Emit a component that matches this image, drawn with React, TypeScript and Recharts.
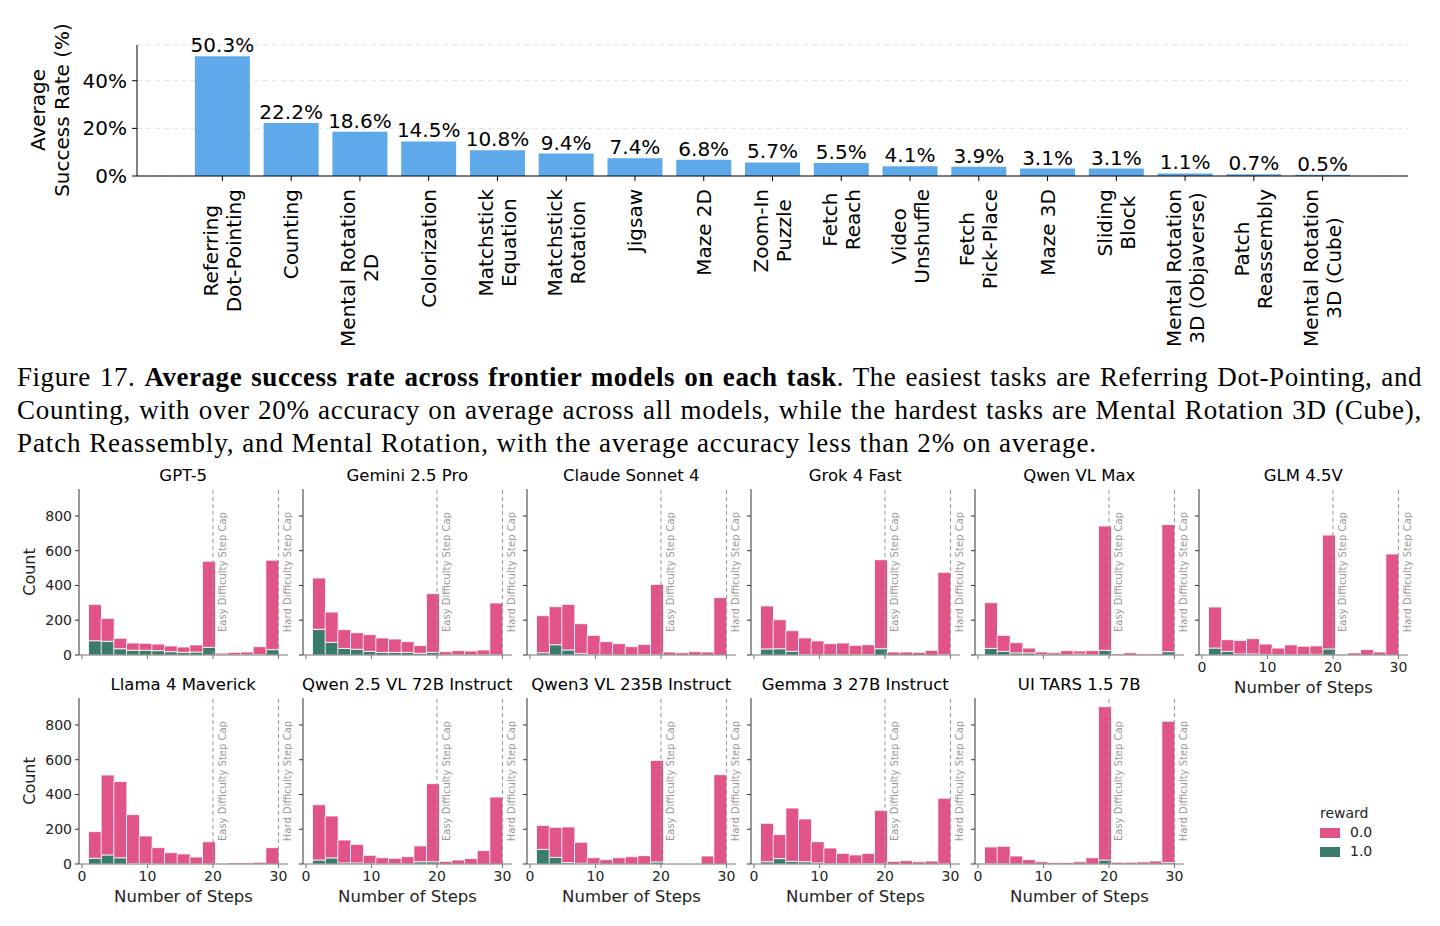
import React from "react"
import { BarChart, Bar, XAxis, YAxis, CartesianGrid, LabelList, ReferenceLine } from "recharts"

// ---- top chart: average success rate per task ----
const tasks = [
  "Referring\nDot-Pointing",
  "Counting",
  "Mental Rotation\n2D",
  "Colorization",
  "Matchstick\nEquation",
  "Matchstick\nRotation",
  "Jigsaw",
  "Maze 2D",
  "Zoom-In\nPuzzle",
  "Fetch\nReach",
  "Video\nUnshuffle",
  "Fetch\nPick-Place",
  "Maze 3D",
  "Sliding\nBlock",
  "Mental Rotation\n3D (Objaverse)",
  "Patch\nReassembly",
  "Mental Rotation\n3D (Cube)",
]
const successRates = [50.3, 22.2, 18.6, 14.5, 10.8, 9.4, 7.4, 6.8, 5.7, 5.5, 4.1, 3.9, 3.1, 3.1, 1.1, 0.7, 0.5]
const rateTicks = [0, 20, 40]

// ---- histograms: number of steps per episode, split by reward ----
const stepBins = [2.0, 3.9, 5.8, 7.8, 9.7, 11.6, 13.6, 15.5, 17.4, 19.4, 21.3, 23.2, 25.2, 27.1, 29.0]
const stepTicks = [0, 10, 20, 30]
const countTicks = [0, 200, 400, 600, 800]

const gpt5Reward0 = [209, 132, 60, 42, 40, 38, 33, 31, 41, 495, 9, 14, 15, 45, 514]
const gpt5Reward1 = [82, 79, 36, 27, 27, 25, 19, 15, 17, 44, 2, 1, 2, 3, 31]
const geminiReward0 = [295, 174, 108, 95, 96, 83, 77, 62, 44, 338, 18, 24, 22, 28, 297]
const geminiReward1 = [148, 73, 38, 33, 21, 15, 15, 15, 10, 15, 1, 1, 1, 1, 2]
const claudeReward0 = [213, 219, 262, 172, 111, 76, 64, 47, 58, 404, 17, 13, 19, 17, 330]
const claudeReward1 = [13, 59, 29, 8, 2, 1, 1, 1, 3, 2, 0, 0, 0, 0, 0]
const grokReward0 = [247, 167, 119, 95, 79, 63, 67, 54, 56, 512, 17, 17, 15, 27, 473]
const grokReward1 = [35, 36, 21, 3, 2, 2, 2, 2, 3, 36, 0, 0, 0, 0, 3]
const qwenMaxReward0 = [263, 92, 59, 28, 15, 12, 24, 18, 24, 715, 6, 13, 6, 6, 731]
const qwenMaxReward1 = [38, 21, 12, 12, 2, 1, 1, 5, 1, 27, 0, 0, 0, 0, 19]
const glmReward0 = [236, 67, 78, 88, 60, 38, 56, 48, 48, 655, 2, 12, 31, 17, 581]
const glmReward1 = [40, 21, 6, 6, 3, 2, 2, 2, 4, 35, 0, 0, 0, 0, 0]
const llamaReward0 = [153, 460, 438, 281, 159, 93, 64, 57, 39, 127, 2, 6, 6, 10, 94]
const llamaReward1 = [33, 52, 36, 3, 2, 1, 1, 1, 1, 1, 0, 0, 0, 0, 0]
const qwen25Reward0 = [318, 241, 132, 107, 48, 35, 32, 41, 91, 449, 15, 23, 31, 77, 385]
const qwen25Reward1 = [23, 35, 6, 6, 2, 1, 1, 1, 13, 13, 0, 0, 0, 0, 0]
const qwen3Reward0 = [138, 173, 205, 121, 35, 25, 36, 42, 48, 584, 0, 0, 0, 46, 514]
const qwen3Reward1 = [84, 38, 8, 4, 1, 0, 0, 0, 0, 12, 0, 0, 0, 0, 0]
const gemmaReward0 = [221, 138, 307, 246, 122, 90, 59, 50, 58, 307, 15, 19, 13, 17, 376]
const gemmaReward1 = [13, 31, 15, 13, 6, 2, 2, 2, 3, 2, 0, 0, 0, 0, 2]
const uiTarsReward0 = [96, 100, 45, 25, 13, 8, 8, 13, 36, 882, 10, 10, 12, 17, 813]
const uiTarsReward1 = [2, 2, 1, 0, 0, 0, 0, 0, 0, 23, 0, 0, 0, 0, 8]

const models = [
  { name: "GPT-5", r0: gpt5Reward0, r1: gpt5Reward1 },
  { name: "Gemini 2.5 Pro", r0: geminiReward0, r1: geminiReward1 },
  { name: "Claude Sonnet 4", r0: claudeReward0, r1: claudeReward1 },
  { name: "Grok 4 Fast", r0: grokReward0, r1: grokReward1 },
  { name: "Qwen VL Max", r0: qwenMaxReward0, r1: qwenMaxReward1 },
  { name: "GLM 4.5V", r0: glmReward0, r1: glmReward1 },
  { name: "Llama 4 Maverick", r0: llamaReward0, r1: llamaReward1 },
  { name: "Qwen 2.5 VL 72B Instruct", r0: qwen25Reward0, r1: qwen25Reward1 },
  { name: "Qwen3 VL 235B Instruct", r0: qwen3Reward0, r1: qwen3Reward1 },
  { name: "Gemma 3 27B Instruct", r0: gemmaReward0, r1: gemmaReward1 },
  { name: "UI TARS 1.5 7B", r0: uiTarsReward0, r1: uiTarsReward1 },
]

const PINK = "#e0548a"
const GREEN = "#3b7b6b"
const BLUE = "#5ea9e9"
const FONT = "'DejaVu Sans', sans-serif"

// layout of the small multiples
const COL_LEFT = [78.75, 302.75, 526.75, 750.75, 974.75, 1198.75]
const ROW_TOP = [489, 698]
const PLOT_W = 209
const PLOT_H = 166
const AXIS_W = 60
const TITLE_H = 25
const XAXIS_H = 50
const RIGHT_M = 16
const BIN_PAD = 9.5

let measureCtx: CanvasRenderingContext2D | null = null
function textWidth(s: string, font: string) {
  if (!measureCtx) measureCtx = document.createElement("canvas").getContext("2d")
  if (!measureCtx) return s.length * 11
  measureCtx.font = font
  return measureCtx.measureText(s).width
}

function TaskTick(props: any) {
  const { x, y, payload } = props
  const lines = String(payload.value).split("\n")
  const longest = Math.max(...lines.map((l) => textWidth(l, "20px 'DejaVu Sans'")))
  const cy = y + 6 + longest / 2
  const lh = 23
  return (
    <text
      transform={`rotate(-90, ${x}, ${cy})`}
      x={x}
      y={cy}
      textAnchor="middle"
      dominantBaseline="central"
      fontSize={20}
      fill="#000"
    >
      {lines.map((l, i) => (
        <tspan key={i} x={x} y={cy + (i - (lines.length - 1) / 2) * lh}>
          {l}
        </tspan>
      ))}
    </text>
  )
}

function TaskChart() {
  const data = tasks.map((t, i) => ({ task: t, rate: successRates[i] }))
  return (
    <div style={{ position: "absolute", left: 0, top: 0 }}>
      <BarChart
        width={1420}
        height={360}
        data={data}
        margin={{ top: 45, right: 12, left: 0, bottom: 0 }}
        barCategoryGap="10%"
      >
        <CartesianGrid vertical={false} strokeDasharray="5 4" stroke="#e2e2e2" />
        <XAxis
          dataKey="task"
          interval={0}
          height={184}
          padding={{ left: 51, right: 51 }}
          stroke="#000"
          tickSize={5}
          tick={(p: any) => <TaskTick {...p} />}
        />
        <YAxis
          width={137}
          domain={[0, 55]}
          ticks={rateTicks}
          tickFormatter={(v: number) => `${v}%`}
          stroke="#000"
          tickSize={5}
          tickMargin={5}
          tick={{ fontSize: 20, fill: "#000" }}
        />
        <Bar dataKey="rate" fill={BLUE} isAnimationActive={false}>
          <LabelList
            dataKey="rate"
            position="top"
            offset={4}
            formatter={(v: any) => `${v}%`}
            style={{ fontSize: 20, fill: "#000" }}
          />
        </Bar>
      </BarChart>
      <div
        style={{
          position: "absolute",
          left: 50 - 110,
          top: 110 - 24,
          width: 220,
          height: 48,
          lineHeight: "24px",
          fontSize: 20,
          textAlign: "center",
          transform: "rotate(-90deg)",
          color: "#000",
        }}
      >
        Average
        <br />
        Success Rate (%)
      </div>
    </div>
  )
}

function Caption() {
  const line: React.CSSProperties = { whiteSpace: "nowrap", height: 33 }
  return (
    <div
      style={{
        position: "absolute",
        left: 17,
        top: 361,
        width: 1405,
        fontFamily: "'Liberation Serif', serif",
        fontSize: 27,
        lineHeight: "33px",
        color: "#000",
      }}
    >
      <div style={{ ...line, letterSpacing: "0.55px", textAlign: "justify", textAlignLast: "justify" }}>
        Figure 17. <b>Average success rate across frontier models on each task</b>. The easiest tasks are Referring
        Dot-Pointing, and
      </div>
      <div style={{ ...line, letterSpacing: "0.75px", textAlign: "justify", textAlignLast: "justify" }}>
        Counting, with over 20% accuracy on average across all models, while the hardest tasks are Mental Rotation 3D
        (Cube),
      </div>
      <div style={{ ...line, letterSpacing: "0.9px" }}>
        Patch Reassembly, and Mental Rotation, with the average accuracy less than 2% on average.
      </div>
    </div>
  )
}

function capLabel(text: string) {
  return { value: text, angle: -90, position: "center" as const, dx: 9, fontSize: 10, fill: "#999" }
}

function StepPanel({
  name,
  r0,
  r1,
  left,
  top,
  yLabels,
  xLabels,
}: {
  name: string
  r0: number[]
  r1: number[]
  left: number
  top: number
  yLabels: boolean
  xLabels: boolean
}) {
  const data = stepBins.map((b, i) => ({ bin: b, r0: r0[i], r1: r1[i] }))
  return (
    <div style={{ position: "absolute", left: left - AXIS_W, top: top - TITLE_H }}>
      <div
        style={{
          position: "absolute",
          left: AXIS_W - 20,
          width: PLOT_W + 40,
          top: 3,
          fontSize: 16.5,
          lineHeight: "18px",
          textAlign: "center",
          whiteSpace: "nowrap",
          color: "#000",
        }}
      >
        {name}
      </div>
      <BarChart
        width={AXIS_W + PLOT_W + RIGHT_M}
        height={TITLE_H + PLOT_H + XAXIS_H}
        data={data}
        margin={{ top: TITLE_H, right: RIGHT_M, left: 0, bottom: 0 }}
        barCategoryGap={0}
        barGap={0}
      >
        <XAxis
          xAxisId="steps"
          dataKey="bin"
          type="number"
          domain={[-0.45, 31.45]}
          allowDataOverflow
          ticks={stepTicks}
          height={XAXIS_H}
          stroke="#777"
          tickSize={4}
          tickMargin={3}
          tick={{ fontSize: 14, fill: "#222" }}
          tickFormatter={(v: number) => (xLabels ? String(v) : "")}
          label={
            xLabels
              ? { value: "Number of Steps", position: "insideBottom", offset: 12, fontSize: 16.5, fill: "#222" }
              : undefined
          }
        />
        <XAxis xAxisId="bin" dataKey="bin" hide height={0} padding={{ left: BIN_PAD, right: BIN_PAD }} />
        <YAxis
          width={AXIS_W}
          domain={[0, 955]}
          allowDataOverflow
          ticks={countTicks}
          stroke="#333"
          tickSize={4}
          tickMargin={3}
          tick={{ fontSize: 14, fill: "#222" }}
          tickFormatter={(v: number) => (yLabels ? String(v) : "")}
        />
        <ReferenceLine
          xAxisId="steps"
          x={20}
          stroke="#999"
          strokeDasharray="4 3"
          label={capLabel("Easy Difficulty Step Cap")}
        />
        <ReferenceLine
          xAxisId="steps"
          x={30}
          stroke="#999"
          strokeDasharray="4 3"
          label={capLabel("Hard Difficulty Step Cap")}
        />
        <Bar
          xAxisId="bin"
          dataKey="r1"
          stackId="reward"
          fill={GREEN}
          stroke="#fff"
          strokeWidth={0.8}
          isAnimationActive={false}
        />
        <Bar
          xAxisId="bin"
          dataKey="r0"
          stackId="reward"
          fill={PINK}
          stroke="#fff"
          strokeWidth={0.8}
          isAnimationActive={false}
        />
      </BarChart>
    </div>
  )
}

function RewardLegend() {
  const swatch = (c: string): React.CSSProperties => ({
    display: "inline-block",
    width: 20,
    height: 10,
    background: c,
    marginRight: 10,
    verticalAlign: "middle",
  })
  return (
    <div style={{ position: "absolute", left: 1320, top: 804, fontSize: 14, lineHeight: "19px", color: "#222" }}>
      <div>reward</div>
      <div>
        <span style={swatch(PINK)} />
        0.0
      </div>
      <div>
        <span style={swatch(GREEN)} />
        1.0
      </div>
    </div>
  )
}

export default function App() {
  return (
    <div
      style={{
        position: "absolute",
        left: 0,
        top: 0,
        width: 1440,
        height: 926,
        background: "#fff",
        fontFamily: FONT,
        overflow: "hidden",
      }}
    >
      <TaskChart />
      <Caption />
      {models.map((m, i) => {
        const row = i < 6 ? 0 : 1
        const col = i < 6 ? i : i - 6
        return (
          <StepPanel
            key={m.name}
            name={m.name}
            r0={m.r0}
            r1={m.r1}
            left={COL_LEFT[col]}
            top={ROW_TOP[row]}
            yLabels={col === 0}
            xLabels={row === 1 || col === 5}
          />
        )
      })}
      {ROW_TOP.map((t) => (
        <div
          key={t}
          style={{
            position: "absolute",
            left: 30 - 40,
            top: t + PLOT_H / 2 - 10,
            width: 80,
            height: 20,
            lineHeight: "20px",
            fontSize: 16,
            textAlign: "center",
            transform: "rotate(-90deg)",
            color: "#222",
          }}
        >
          Count
        </div>
      ))}
      <RewardLegend />
    </div>
  )
}
